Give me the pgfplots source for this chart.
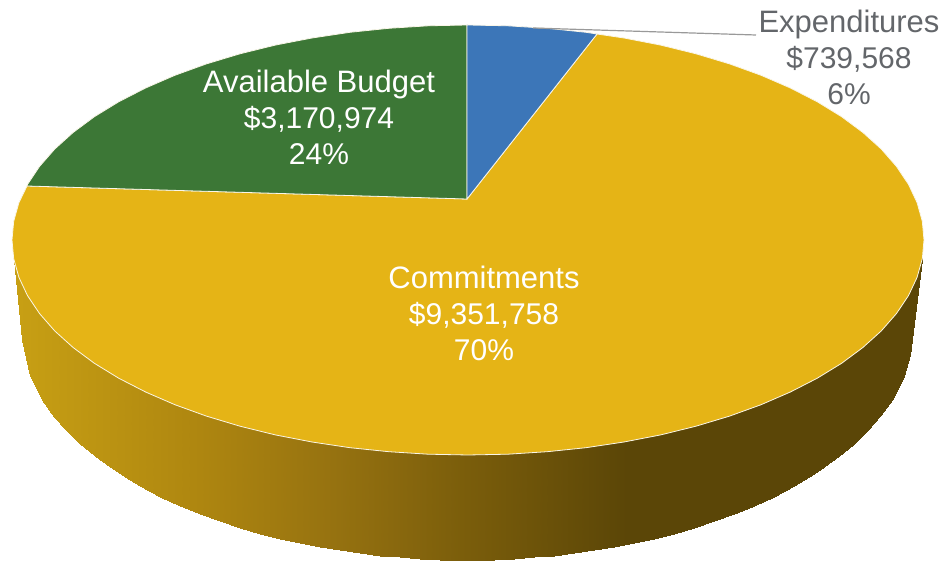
\documentclass[border=0pt]{standalone}
\usepackage{pgfplots}
\pgfplotsset{compat=1.18}
\usepackage{fontspec}
\setmainfont{Liberation Sans}
\definecolor{cgold}{RGB}{229,180,22}
\definecolor{cgreen}{RGB}{60,119,54}
\definecolor{cblue}{RGB}{60,118,184}
\definecolor{cedge}{RGB}{250,246,232}
\definecolor{clabel}{RGB}{99,102,106}
\newcommand{\lab}{\fontsize{31}{36}\selectfont}
\newcommand{\num}{\fontsize{30}{36}\selectfont}
\begin{document}
\begin{tikzpicture}
\path[use as bounding box] (0,0) rectangle (943pt,561pt);
\begin{axis}[
  at={(0,0)}, anchor=south west,
  scale only axis, width=943pt, height=561pt,
  xmin=0, xmax=943, ymin=0, ymax=561, y dir=reverse,
  axis lines=none,
  colormap={side}{
    rgb255(0pt)=(200,160,20);
    rgb255(188pt)=(174,134,16);
    rgb255(321pt)=(150,114,16);
    rgb255(455pt)=(122,93,11);
    rgb255(615pt)=(91,70,7);
    rgb255(912pt)=(91,70,7)},
  point meta min=12, point meta max=924,
]
% side wall of the pie, vertical strips (top row, then bottom row)
\addplot[surf, shader=interp, mesh/rows=2, point meta=x] table {
x y
13.7 240
22 240
30 240
42 240
54 240
66 240
80 240
95 240
110 240
125 240
140 240
160 240
180 240
200 240
220 240
240 240
260 240
280 240
300 240
320 240
340 240
360 240
380 240
400 240
420 240
440 240
467 240
494 240
514 240
534 240
554 240
574 240
594 240
614 240
634 240
654 240
674 240
694 240
714 240
734 240
754 240
774 240
794 240
809 240
824 240
839 240
854 240
868 240
880 240
892 240
904 240
910 240
922.3 240
13.7 258.7
22 340
30 376
42 400
54 417
66 430
80 443.5
95 456
110 467
125 477
140 486
160 496.5
180 505.7
200 514
220 521
240 528
260 533.6
280 538.7
300 543
320 547
340 550
360 553
380 555.6
400 557.4
420 558.7
440 559.6
467 560
494 559.6
514 558.7
534 557.4
554 555.6
574 553
594 550
614 547
634 543
654 538.7
674 533.6
694 528
714 521
734 514
754 505.7
774 496.5
794 486
809 477
824 467
839 456
854 443.5
868 430
880 416
892 400
904 376
910 355
922.3 258.7
};
% Commitments 9,351,758
\addplot[fill=cgold, draw=cedge, line width=0.8pt] coordinates {
(467,199)(597,34)(624,38)(660.7,45.1)(696,53.8)(729.6,63.9)(761.1,75.3)(790.4,88)(817.3,101.8)(841.6,116.7)(862.9,132.5)(881.3,149.1)(896.5,166.5)(908.5,184.4)(917.1,202.7)(922.3,221.3)(924,240)
(922.3,258.7)(917.1,277.3)(908.5,295.6)(896.5,313.5)(881.3,330.9)(862.9,347.5)(841.6,363.3)(817.3,378.2)(790.4,392)(761.1,404.7)(729.6,416.1)(696,426.2)(660.7,434.9)(624,442)(586,447.7)(547.2,451.7)(507.8,454.2)(468,455)
(428.2,454.2)(388.8,451.7)(350,447.7)(312,442)(275.3,434.9)(240,426.2)(206.4,416.1)(174.9,404.7)(145.6,392)(118.7,378.2)(94.4,363.3)(73.1,347.5)(54.7,330.9)(39.5,313.5)(27.5,295.6)(18.9,277.3)(13.7,258.7)(12,240)
(13.7,221.3)(18.9,202.7)(27,186)(467,199)
} -- cycle;
% Available Budget 3,170,974
\addplot[fill=cgreen, draw=cedge, line width=0.8pt] coordinates {
(467,199)(27,186)(27.5,184.4)(39.5,166.5)(54.7,149.1)(73.1,132.5)(94.4,116.7)(118.7,101.8)(145.6,88)(174.9,75.3)(206.4,63.9)(240,53.8)(275.3,45.1)(312,38)(350,32.3)(388.8,28.3)(428.2,25.8)(467,25)(467,199)
} -- cycle;
% Expenditures 739,568
\addplot[fill=cblue, draw=cedge, line width=0.8pt] coordinates {
(467,199)(467,25)(468,25)(507.8,25.8)(547.2,28.3)(586,32.3)(597,34)(467,199)
} -- cycle;
% leader line
\addplot[draw=black!40, line width=1.2pt] coordinates {(533,28)(756,35)};
\node[text=white, align=center, font=\lab] at (axis cs:319,117) {Available Budget\\\num\$3,170,974\\\num 24\%};
\node[text=white, align=center, font=\lab] at (axis cs:484,313) {Commitments\\\num\$9,351,758\\\num 70\%};
\node[text=clabel, align=center, font=\lab] at (axis cs:849,57) {Expenditures\\\num\$739,568\\\num 6\%};
\end{axis}
\end{tikzpicture}
\end{document}
